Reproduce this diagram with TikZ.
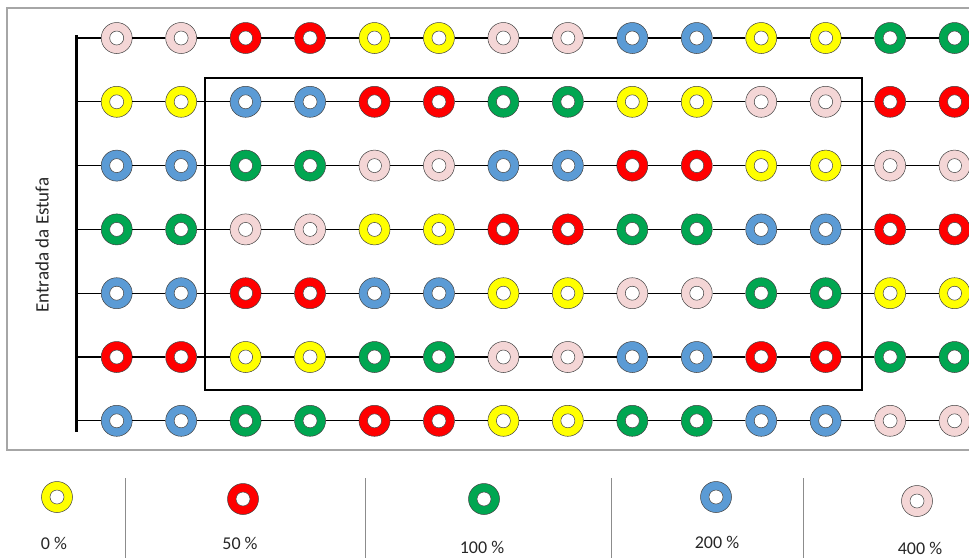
\documentclass[tikz,border=0pt]{standalone}
\usepackage{fontspec}
\setmainfont{Carlito}
\definecolor{cY}{HTML}{FFFF00}
\definecolor{cR}{HTML}{FF0000}
\definecolor{cG}{HTML}{00A651}
\definecolor{cB}{HTML}{5B9BD5}
\definecolor{cP}{HTML}{F4D6D6}
\definecolor{ringline}{HTML}{404040}
\definecolor{framegray}{HTML}{A6A6A6}
\definecolor{txt}{HTML}{262626}
\begin{document}
\begin{tikzpicture}[x=1pt,y=-1pt,
  ring/.style={circle, draw=ringline, line width=0.5pt, minimum size=31pt, inner sep=0pt,
    path picture={\fill[white,draw=ringline,line width=0.5pt] (path picture bounding box.center) circle (7pt);}},
  rowline/.style={line width=1.2pt, black},
  bar/.style={line width=3pt, black},
  zone/.style={line width=2.4pt, black},
  frame/.style={line width=1.2pt, framegray},
  sep/.style={line width=0.8pt, black!45},
  lab/.style={font=\fontsize{18}{21}\selectfont, text=txt, inner sep=0pt},
  sidelab/.style={font=\fontsize{19}{22}\selectfont, text=txt, inner sep=0pt}]
\useasboundingbox (0,0) rectangle (969,558);
% outer frame
\draw[frame] (969,8) -- (7,8) -- (7,450) -- (969,450);
% inlet bar
\coordinate (bartop) at (76,35);
\coordinate (barbot) at (76,432);
\draw[bar] (bartop) -- (barbot);
\node[sidelab, rotate=90] (inlet) at (42,245) {Entrada da Estufa};
% rings
\foreach \colors [count=\r] in {
  {P,P,R,R,Y,Y,P,P,B,B,Y,Y,G,G},
  {Y,Y,B,B,R,R,G,G,Y,Y,P,P,R,R},
  {B,B,G,G,P,P,B,B,R,R,Y,Y,P,P},
  {G,G,P,P,Y,Y,R,R,G,G,B,B,R,R},
  {B,B,R,R,B,B,Y,Y,P,P,G,G,Y,Y},
  {R,R,Y,Y,G,G,P,P,B,B,R,R,G,G},
  {B,B,G,G,R,R,Y,Y,G,G,B,B,P,P}}{
  \pgfmathsetmacro{\yy}{38+63.8*(\r-1)}
  \coordinate (s\r) at (76,\yy);
  \coordinate (e\r) at (969,\yy);
  \foreach \cl [count=\c] in \colors {
    \pgfmathsetmacro{\xx}{116.7+64.45*(\c-1)}
    \node[ring, fill=c\cl] (n\r-\c) at (\xx,\yy) {};
  }
  \draw[rowline] (s\r) -- (n\r-1);
  \foreach \c [evaluate=\c as \d using int(\c+1)] in {1,...,13} {
    \draw[rowline] (n\r-\c) -- (n\r-\d);
  }
  \draw[rowline] (n\r-14) -- (e\r);
}
% test zone rectangle
\draw[zone] (205,78) rectangle (862,390);
% legend
\foreach \x in {125,365,611,803} \draw[sep] (\x,478) -- (\x,558);
\node[ring, fill=cY] (lY) at (57,497) {};
\node[ring, fill=cR] (lR) at (243,499) {};
\node[ring, fill=cG] (lG) at (484,499) {};
\node[ring, fill=cB] (lB) at (716,497) {};
\node[ring, fill=cP] (lP) at (917,501) {};
\node[lab] (tY) at (54,543) {0 \%};
\node[lab] (tR) at (240,543) {50 \%};
\node[lab] (tG) at (482,547) {100 \%};
\node[lab] (tB) at (717,542) {200 \%};
\node[lab] (tP) at (920,548) {400 \%};
\end{tikzpicture}
\end{document}
